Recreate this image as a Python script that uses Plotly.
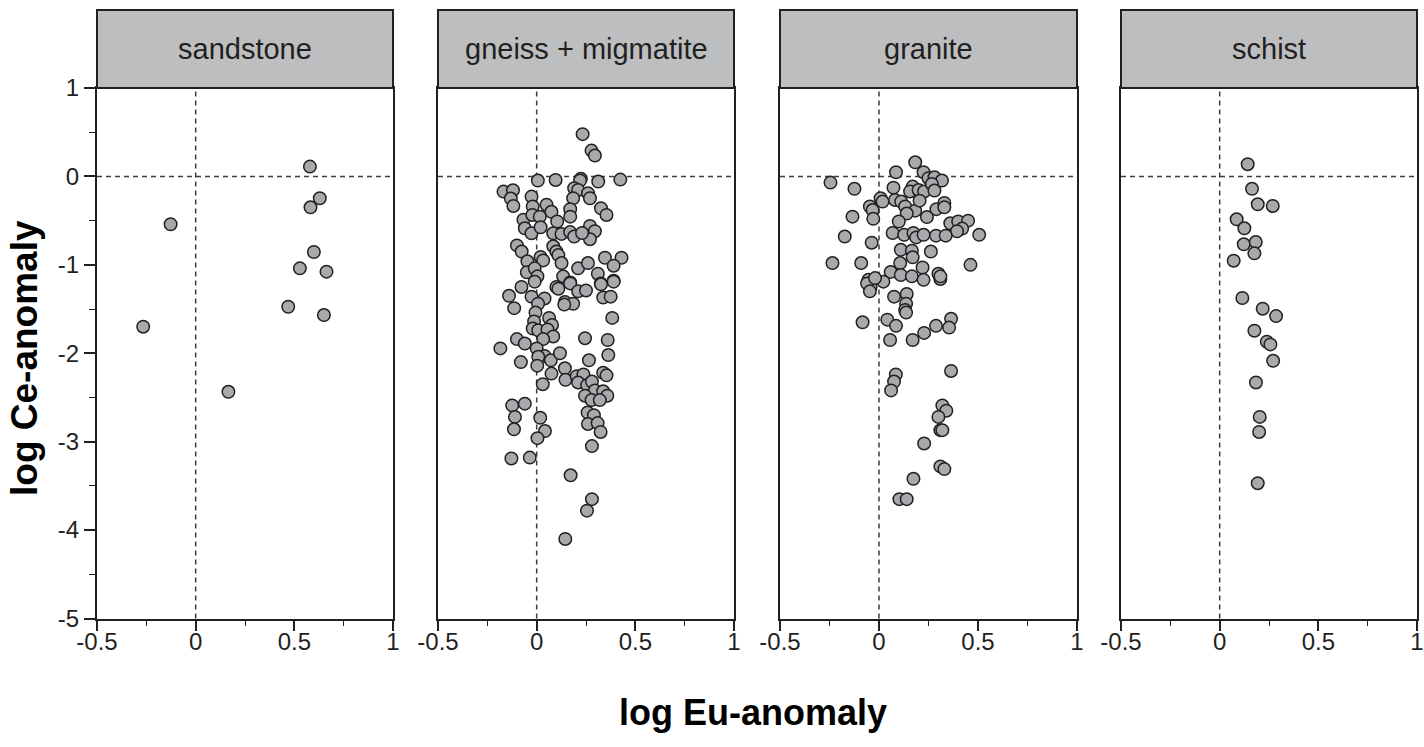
import plotly.graph_objects as go

W, H = 1424, 747

panel_names = ["sandstone", "gneiss + migmatite", "granite", "schist"]

sandstone_x = [0.579, 0.629, 0.582, -0.127, 0.599, 0.528, 0.663, 0.469, 0.650, -0.266, 0.166]
sandstone_y = [0.111, -0.247, -0.349, -0.541, -0.855, -1.04, -1.077, -1.474, -1.568, -1.70, -2.436]

gneiss_x = [0.233, 0.278, 0.295, 0.006, 0.096, 0.224, 0.220, 0.312, 0.424, -0.168, -0.120, -0.131,
            -0.118, -0.026, -0.020, 0.050, 0.075, 0.190, 0.210, 0.185, 0.260, 0.270, 0.170, 0.170,
            0.326, 0.354, -0.067, -0.022, 0.016, -0.060, -0.026, 0.020, 0.104, 0.084, 0.126, 0.170,
            0.190, 0.270, 0.295, 0.270, 0.230, -0.100, -0.076, 0.084, 0.100, 0.110, 0.020, 0.033,
            0.126, 0.210, 0.260, 0.346, 0.430, 0.390, -0.047, -0.050, -0.010, 0.004, 0.310, 0.325,
            0.390, -0.077, 0.134, 0.170, 0.100,
            -0.010, 0.110, 0.170, 0.210, 0.250, 0.326, 0.390, -0.140, -0.114, -0.026, 0.040, 0.007,
            0.143, 0.185, 0.140, 0.337, 0.375, 0.383, -0.006, 0.063, -0.013, -0.020, 0.008, 0.078,
            0.055, 0.084, 0.033, -0.100, -0.060, -0.184, 0.000, 0.040, 0.008, 0.072, -0.080, 0.003,
            0.118, 0.143, 0.075, 0.146, 0.245, 0.360, 0.363, 0.265, 0.337, 0.354, 0.203, 0.237,
            0.210, 0.256, 0.280, 0.295, 0.337, 0.358, 0.245, 0.278, 0.320, 0.258, 0.290, 0.260,
            0.309, 0.324, 0.031, -0.124, -0.060, -0.110, -0.115, 0.018, 0.042, 0.004, 0.280,
            -0.128, -0.035, 0.172, 0.280, 0.255, 0.145]
gneiss_y = [0.478, 0.292, 0.236, -0.047, -0.040, -0.025, -0.047, -0.058, -0.036, -0.172, -0.157, -0.250,
            -0.334, -0.228, -0.340, -0.320, -0.400, -0.134, -0.153, -0.247, -0.190, -0.247, -0.370, -0.455,
            -0.360, -0.436, -0.490, -0.436, -0.455, -0.587, -0.643, -0.575, -0.510, -0.643, -0.650, -0.630,
            -0.680, -0.560, -0.620, -0.710, -0.640, -0.780, -0.850, -0.790, -0.850, -0.890, -0.910, -0.950,
            -0.980, -1.040, -0.980, -0.920, -0.920, -1.010, -0.960, -1.085, -1.040, -1.130, -1.100, -1.210,
            -1.180, -1.250, -1.130, -1.200, -1.250,
            -1.190, -1.270, -1.210, -1.300, -1.290, -1.220, -1.190, -1.350, -1.490, -1.360, -1.380, -1.440,
            -1.420, -1.440, -1.450, -1.370, -1.360, -1.600, -1.540, -1.600, -1.640, -1.720, -1.740, -1.680,
            -1.730, -1.810, -1.840, -1.840, -1.890, -1.945, -1.945, -2.030, -2.040, -2.080, -2.100, -2.140,
            -2.000, -2.170, -2.230, -2.300, -1.830, -1.850, -2.020, -2.080, -2.220, -2.250, -2.260, -2.240,
            -2.330, -2.360, -2.320, -2.420, -2.430, -2.480, -2.480, -2.530, -2.530, -2.670, -2.700, -2.800,
            -2.790, -2.890, -2.350, -2.590, -2.570, -2.720, -2.860, -2.730, -2.880, -2.960, -3.050,
            -3.190, -3.180, -3.380, -3.650, -3.780, -4.100]

granite_x = [0.183, 0.086, 0.225, 0.250, 0.280, 0.318, -0.245, -0.124, 0.073, 0.170, 0.157, 0.200,
             0.228, 0.267, 0.280, 0.008, 0.018, -0.046, -0.032, -0.029, -0.134, 0.081, 0.112, 0.132,
             0.183, 0.205, 0.140, 0.242, 0.290, 0.330, 0.330, 0.100, 0.360, 0.400, 0.450, 0.420,
             0.394, 0.506, -0.173, -0.037, 0.069, 0.127, 0.174, 0.188, 0.225, 0.288, 0.337, 0.110,
             0.166, 0.262, 0.170, 0.107, 0.220, -0.235, -0.090, 0.462, 0.059, 0.110, 0.166, 0.225,
             0.300, 0.310, 0.310, 0.022, -0.054, -0.042, 0.076, 0.140, -0.060, -0.020,
             -0.046, 0.137, 0.132, 0.137, -0.083, 0.042, 0.086, 0.056, 0.170, 0.228, 0.288, 0.364,
             0.354, 0.364, 0.085, 0.076, 0.061, 0.320, 0.340, 0.300, 0.310, 0.320, 0.228, 0.310,
             0.330, 0.174, 0.103, 0.140]
granite_y = [0.160, 0.047, 0.047, -0.020, -0.010, -0.047, -0.070, -0.140, -0.127, -0.115, -0.170, -0.153,
             -0.170, -0.085, -0.160, -0.247, -0.285, -0.340, -0.380, -0.480, -0.455, -0.266, -0.285, -0.340,
             -0.387, -0.274, -0.420, -0.460, -0.370, -0.300, -0.350, -0.510, -0.530, -0.510, -0.500, -0.590,
             -0.620, -0.660, -0.680, -0.750, -0.640, -0.660, -0.640, -0.690, -0.660, -0.670, -0.670, -0.830,
             -0.840, -0.850, -0.915, -0.980, -1.030, -0.980, -0.980, -1.000, -1.080, -1.115, -1.130, -1.170,
             -1.100, -1.160, -1.130, -1.190, -1.170, -1.250, -1.360, -1.330, -1.210, -1.150,
             -1.300, -1.440, -1.510, -1.540, -1.650, -1.620, -1.690, -1.850, -1.850, -1.770, -1.690, -1.610,
             -1.710, -2.200, -2.240, -2.320, -2.420, -2.590, -2.650, -2.720, -2.870, -2.870, -3.020, -3.280,
             -3.310, -3.420, -3.650, -3.650]

schist_x = [0.142, 0.164, 0.193, 0.269, 0.086, 0.125, 0.122, 0.183, 0.176, 0.071, 0.115, 0.218,
            0.286, 0.176, 0.239, 0.257, 0.271, 0.184, 0.203, 0.200, 0.193]
schist_y = [0.138, -0.140, -0.315, -0.334, -0.485, -0.587, -0.768, -0.742, -0.870, -0.953, -1.375, -1.496,
            -1.580, -1.745, -1.870, -1.900, -2.085, -2.330, -2.720, -2.890, -3.470]

data_x = [sandstone_x, gneiss_x, granite_x, schist_x]
data_y = [sandstone_y, gneiss_y, granite_y, schist_y]

x_ticks = [-0.5, 0, 0.5, 1]
x_tick_text = ["-0.5", "0", "0.5", "1"]
y_ticks = [-5, -4, -3, -2, -1, 0, 1]
y_tick_text = ["-5", "-4", "-3", "-2", "-1", "0", "1"]

DARK = "#231f20"
FONT = "Liberation Sans, Arial, sans-serif"

# layout in pixels
panel_px = [(97, 393), (438, 734), (780, 1077), (1121, 1417)]
plot_top, plot_bottom, head_top = 88, 618.5, 10

def px_x(p):
    return p / W

def px_y(p):
    return (H - p) / H

fig = go.Figure()
layout = dict(
    width=W, height=H, margin=dict(l=0, r=0, t=0, b=0, pad=0, autoexpand=False),
    paper_bgcolor="white", plot_bgcolor="white", showlegend=False,
    font=dict(family=FONT, color=DARK),
)
shapes = []
annotations = []

for i in range(4):
    n = "" if i == 0 else str(i + 1)
    xa, ya = "x" + n, "y" + n
    fig.add_trace(go.Scatter(
        x=data_x[i], y=data_y[i], mode="markers", xaxis=xa, yaxis=ya,
        marker=dict(size=12.5, color="#a7a9ac", line=dict(color=DARK, width=1.5)),
        cliponaxis=False,
    ))
    l, r = panel_px[i]
    layout["xaxis" + n] = dict(
        domain=[px_x(l), px_x(r)], range=[-0.5, 1], anchor=ya, automargin=False,
        tickmode="array", tickvals=x_ticks, ticktext=x_tick_text,
        ticks="outside", ticklen=10, tickwidth=1.6, tickcolor=DARK,
        ticklabelstandoff=-9,
        tickfont=dict(size=24, color=DARK, family=FONT),
        minor=dict(ticks="outside", ticklen=5, tickwidth=1.2, tickcolor=DARK,
                   tickvals=[-0.25, 0.25, 0.75], showgrid=False),
        showline=True, mirror=True, linecolor=DARK, linewidth=2,
        showgrid=False, zeroline=False, fixedrange=True,
    )
    ydict = dict(
        domain=[px_y(plot_bottom), px_y(plot_top)], range=[-5, 1], anchor=xa, automargin=False,
        showline=True, mirror=True, linecolor=DARK, linewidth=2,
        showgrid=False, zeroline=False, fixedrange=True,
    )
    if i == 0:
        ydict.update(
            tickmode="array", tickvals=y_ticks, ticktext=y_tick_text,
            ticks="outside", ticklen=11, tickwidth=1.6, tickcolor=DARK,
            tickfont=dict(size=24, color=DARK, family=FONT),
            minor=dict(ticks="outside", ticklen=6, tickwidth=1.2, tickcolor=DARK,
                       tickvals=[-4.5, -3.5, -2.5, -1.5, -0.5, 0.5], showgrid=False),
        )
    else:
        ydict.update(showticklabels=False, ticks="")
    layout["yaxis" + n] = ydict

    # dashed reference lines
    shapes.append(dict(type="line", xref=xa + " domain", yref=ya, x0=0, x1=1, y0=0, y1=0,
                       line=dict(color="#3c3c3e", width=1.5, dash="5px,4px"), layer="below"))
    shapes.append(dict(type="line", xref=xa, yref=ya + " domain", x0=0, x1=0, y0=0, y1=1,
                       line=dict(color="#3c3c3e", width=1.5, dash="5px,4px"), layer="below"))
    # header box
    shapes.append(dict(type="rect", xref="paper", yref="paper",
                       x0=px_x(l), x1=px_x(r), y0=px_y(plot_top), y1=px_y(head_top),
                       fillcolor="#bcbec0", line=dict(color=DARK, width=2)))
    annotations.append(dict(x=px_x((l + r) / 2), y=px_y((plot_top + head_top) / 2),
                            xref="paper", yref="paper", text=panel_names[i], showarrow=False,
                            font=dict(size=29, color=DARK, family=FONT),
                            xanchor="center", yanchor="middle"))

annotations.append(dict(x=px_x(753), y=px_y(712), xref="paper", yref="paper",
                        text="<b>log Eu-anomaly</b>", showarrow=False,
                        font=dict(size=36, color="black", family=FONT),
                        xanchor="center", yanchor="middle"))
annotations.append(dict(x=px_x(24), y=px_y(358), xref="paper", yref="paper",
                        text="<b>log Ce-anomaly</b>", showarrow=False, textangle=-90,
                        font=dict(size=37, color="black", family=FONT),
                        xanchor="center", yanchor="middle"))

layout["shapes"] = shapes
layout["annotations"] = annotations
fig.update_layout(**layout)
fig.write_html("out.html")
